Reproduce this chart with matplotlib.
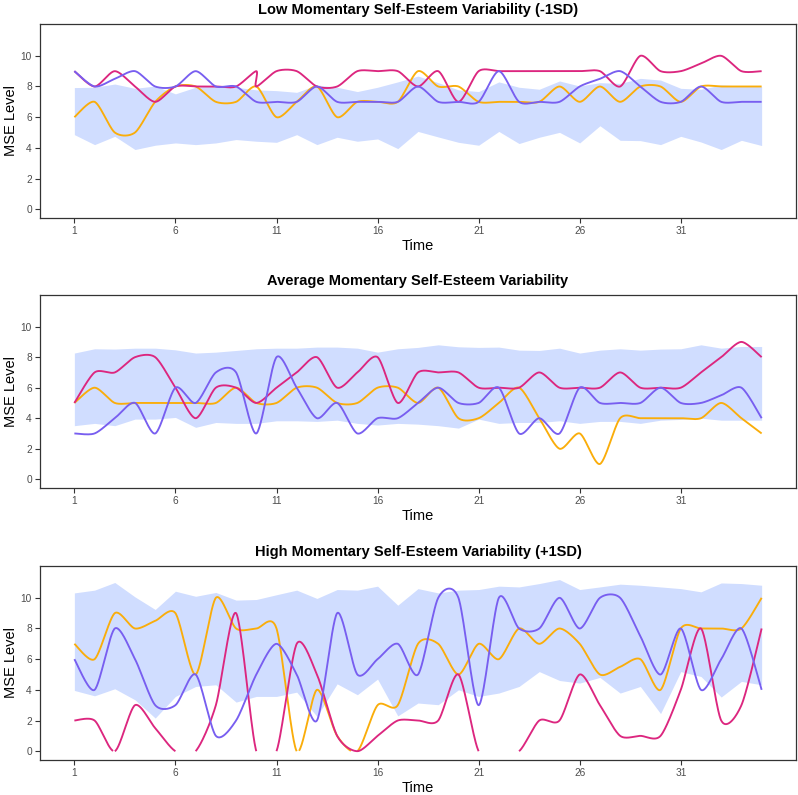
import numpy as np
import matplotlib
matplotlib.use("Agg")
import matplotlib.pyplot as plt

plt.rcParams["font.family"] = ["Liberation Sans", "DejaVu Sans"]

# ---------------- data ----------------
time = list(range(1, 36))
x_ticks = [1, 6, 11, 16, 21, 26, 31]
y_ticks = [0, 2, 4, 6, 8, 10]

titles = ["Low Momentary Self-Esteem Variability (-1SD)",
          "Average Momentary Self-Esteem Variability",
          "High Momentary Self-Esteem Variability (+1SD)"]

# Low variability panel
low_band_lo = [4.86, 4.21, 4.75, 3.89, 4.17, 4.32, 4.21, 4.32, 4.54, 4.43, 4.36, 4.86, 4.21, 4.69, 4.43,
               4.58, 3.95, 5.07, 4.71, 4.36, 4.17, 5.07, 4.28, 4.69, 5.01, 4.32, 5.44, 4.49, 4.47, 4.21,
               4.75, 4.38, 3.89, 4.49, 4.15]
low_band_hi = [7.93, 7.95, 8.16, 7.88, 8.03, 7.52, 7.95, 8.08, 7.95, 7.78, 7.73, 7.62, 8.10, 7.95, 7.67,
               7.95, 8.30, 8.68, 8.25, 7.78, 7.67, 8.30, 7.95, 7.82, 8.36, 8.03, 8.25, 8.20, 8.53, 8.42,
               7.88, 7.82, 8.10, 8.03, 7.99]
low_magenta_time = [1, 2, 3, 4, 5, 6, 7, 8, 9, 10, 10, 11, 12, 13, 14, 15, 16, 17, 18, 19, 20, 21, 22,
                    23, 24, 25, 26, 27, 28, 29, 30, 31, 32, 33, 34, 35]
low_magenta = [9, 8, 9, 8, 7, 8, 8, 8, 8, 9, 8, 9, 9, 8, 8, 9, 9, 9, 8, 9, 7, 9, 9, 9, 9, 9, 9, 9, 8, 10,
               9, 9, 9.5, 10, 9, 9]
low_orange = [6, 7, 5, 5, 7, 8, 8, 7, 7, 8, 6, 7, 8, 6, 7, 7, 7, 9, 8, 8, 7, 7, 7, 7, 8, 7, 8, 7, 8, 8,
              7, 8, 8, 8, 8]
low_purple = [9, 8, 8.5, 9, 8, 8, 9, 8, 8, 7, 7, 7, 8, 7, 7, 7, 7, 8, 7, 7, 7, 9, 7, 7, 7, 8, 8.5, 9, 8, 7,
              7, 8, 7, 7, 7]

# Average variability panel
avg_band_lo = [3.51, 3.66, 3.51, 3.94, 3.94, 4.05, 3.40, 3.72, 3.66, 3.66, 3.83, 3.83, 3.79, 3.87, 3.66,
               3.55, 3.66, 3.61, 3.51, 3.35, 3.94, 3.66, 3.72, 3.72, 3.83, 3.66, 3.79, 3.79, 3.66, 3.87,
               3.92, 4.00, 3.87, 3.87, 3.87]
avg_band_hi = [8.27, 8.55, 8.53, 8.59, 8.59, 8.48, 8.27, 8.33, 8.44, 8.55, 8.59, 8.59, 8.66, 8.66, 8.59,
               8.33, 8.55, 8.64, 8.81, 8.68, 8.64, 8.66, 8.46, 8.44, 8.59, 8.27, 8.46, 8.55, 8.46, 8.53,
               8.55, 8.81, 8.59, 8.70, 8.70]
avg_magenta = [5, 7, 7, 8, 8, 6, 4, 6, 6, 5, 6, 7, 8, 6, 7, 8, 5, 7, 7, 7, 6, 6, 6, 7, 6, 6, 6, 7, 6, 6,
               6, 7, 8, 9, 8]
avg_orange = [5, 6, 5, 5, 5, 5, 5, 5, 6, 5, 5, 6, 6, 5, 5, 6, 6, 5, 6, 4, 4, 5, 6, 4, 2, 3, 1, 4, 4, 4,
              4, 4, 5, 4, 3]
avg_purple = [3, 3, 4, 5, 3, 6, 5, 7, 7, 3, 8, 6, 4, 5, 3, 4, 4, 5, 6, 5, 5, 6, 3, 4, 3, 6, 5, 5, 5, 6,
              5, 5, 5.5, 6, 4]

# High variability panel
high_band_lo = [3.96, 3.61, 4.07, 3.35, 2.16, 3.57, 4.22, 4.33, 3.20, 3.57, 3.57, 3.85, 2.27, 4.39, 3.68,
                4.70, 2.30, 3.14, 3.03, 4.00, 3.57, 3.79, 4.22, 5.19, 4.61, 4.44, 4.81, 3.79, 4.22, 2.45,
                5.19, 4.87, 3.53, 4.55, 4.33]
high_band_hi = [10.32, 10.5, 11.0, 10.06, 9.24, 10.43, 10.1, 10.35, 9.85, 9.89, 10.2, 10.5, 9.96, 10.54,
                10.5, 10.76, 9.52, 10.6, 10.32, 10.5, 10.54, 10.76, 10.71, 10.93, 11.19, 10.54, 10.71,
                10.89, 10.82, 10.71, 10.6, 10.39, 10.97, 10.93, 10.82]
high_magenta = [2, 2, 0, 3, 1.5, 0, 0, 3, 9, 0, 0, 7, 5, 1, 0, 1, 2, 2, 2, 5, 0, 0, 0, 2, 2, 5, 3, 1, 1, 1,
                4, 8, 2, 3, 8]
high_orange = [7, 6, 9, 8, 8.5, 9, 5, 10, 8, 8, 8, 0, 4, 1, 0, 3, 3, 7, 7, 5, 7, 6, 8, 7, 8, 7, 5, 5.5, 6,
               4, 8, 8, 8, 8, 10]
high_purple = [6, 4, 8, 6, 3, 3, 5, 1, 2, 5, 7, 5, 2, 9, 5, 6, 7, 5, 10, 10, 3, 10, 8, 8, 10, 8, 10, 10,
               7.5, 5, 8, 4, 6, 8, 4]

Y_LIMITS = (0, 11.5)

# ---------------- style ----------------
C_MAG = "#DC267F"
C_ORA = "#FAAD0A"
C_PUR = "#785EF0"
C_BAND = "#648FFF"


def smooth(x, y, k=0.8, n=30):
    P = np.column_stack([np.asarray(x, float), np.asarray(y, float)])
    Pp = np.vstack([P[0], P, P[-1]])
    s = np.linspace(0, 1, n, endpoint=False)[:, None]
    h00 = 2 * s**3 - 3 * s**2 + 1
    h10 = s**3 - 2 * s**2 + s
    h01 = -2 * s**3 + 3 * s**2
    h11 = s**3 - s**2
    segs = []
    for i in range(len(P) - 1):
        p0, p1, p2, p3 = Pp[i], Pp[i + 1], Pp[i + 2], Pp[i + 3]
        m1 = k * (p2 - p0) / 2
        m2 = k * (p3 - p1) / 2
        segs.append(h00 * p1 + h10 * m1 + h01 * p2 + h11 * m2)
    segs.append(P[-1][None, :])
    C = np.vstack(segs)
    xs, ys = C[:, 0], C[:, 1].copy()
    ys[(ys < Y_LIMITS[0] - 1e-9) | (ys > Y_LIMITS[1] + 1e-9)] = np.nan
    return xs, ys


fig = plt.figure(figsize=(7.98, 7.95), dpi=100)
W, H = 798, 795
panels = [
    (24, 218, low_band_lo, low_band_hi, (low_orange, time), (low_magenta, low_magenta_time), (low_purple, time)),
    (295, 488, avg_band_lo, avg_band_hi, (avg_orange, time), (avg_magenta, time), (avg_purple, time)),
    (566, 760, high_band_lo, high_band_hi, (high_orange, time), (high_magenta, time), (high_purple, time)),
]

for idx, (top, bot, blo, bhi, ora, mag, pur) in enumerate(panels):
    ax_w = 796 - 40
    ax_h = bot - top
    ax = fig.add_axes([40 / W, 1 - bot / H, ax_w / W, ax_h / H])
    ax.fill_between(time, blo, bhi, color=C_BAND, alpha=0.3, linewidth=0)
    for (vals, tt), col in [(ora, C_ORA), (mag, C_MAG), (pur, C_PUR)]:
        xs, ys = smooth(tt, vals)
        ax.plot(xs, ys, color=col, linewidth=1.35, solid_capstyle="butt")
    ax.set_xlim(-0.7, 36.7)
    ax.set_ylim(-0.575, 12.075)
    ax.set_xticks(x_ticks)
    ax.set_yticks(y_ticks)
    ax.tick_params(axis="both", direction="out", length=3.6, width=0.8, color="#333333",
                   labelsize=7.3, labelcolor="#4D4D4D", pad=2.3)
    for sp in ax.spines.values():
        sp.set_color("#333333")
        sp.set_linewidth(0.9)
    ax.set_xlabel("Time", fontsize=10.5, color="black")
    ax.xaxis.set_label_coords(0.5, -21 / ax_h)
    ax.set_ylabel("MSE Level", fontsize=10.5, color="black")
    ax.yaxis.set_label_coords(-22 / ax_w, 0.5)
    ax.set_title(titles[idx], fontsize=10.5, fontweight="bold", pad=7.5)

fig.savefig("out.png", dpi=100)
